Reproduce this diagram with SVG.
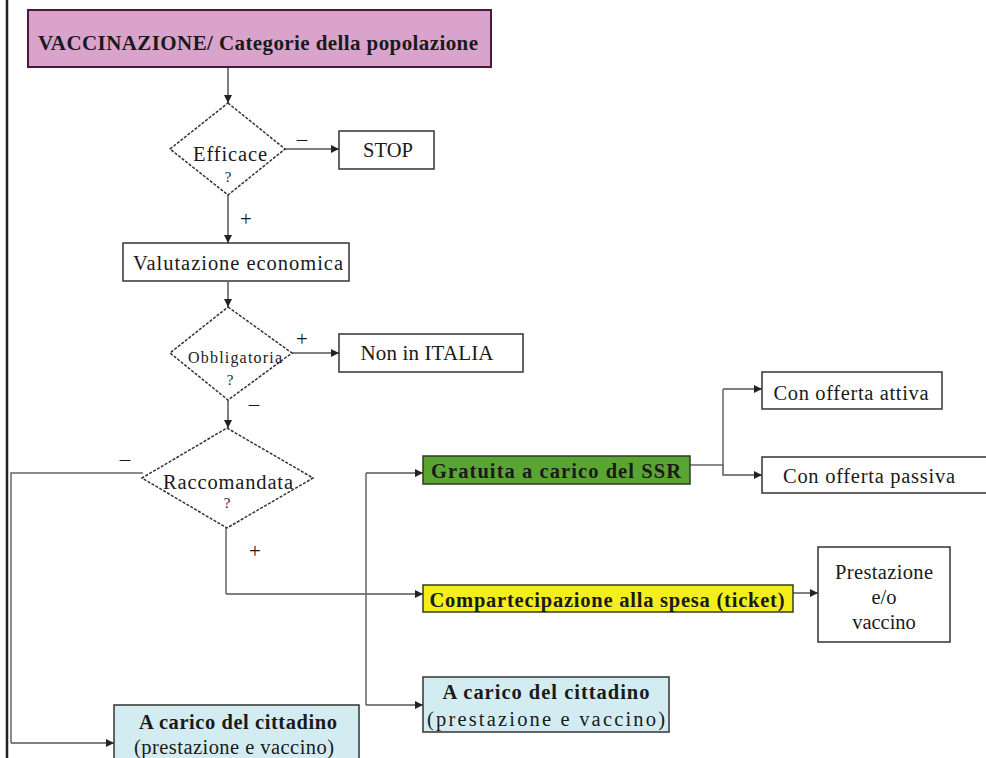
<svg xmlns="http://www.w3.org/2000/svg" width="986" height="758" viewBox="0 0 986 758">
<defs>
<marker id="arr" viewBox="0 0 10 10" refX="10" refY="5" markerWidth="9" markerHeight="8" markerUnits="userSpaceOnUse" orient="auto">
<path d="M0,0 L10,5 L0,10 z" fill="#222"/>
</marker>
<style>
text{font-family:"Liberation Serif","Times New Roman",serif;fill:#1a1a1a;text-anchor:middle;dominant-baseline:central}
.box{fill:#fff;stroke:#333;stroke-width:1.5}
.dia{fill:#fff;stroke:#333;stroke-width:1.5;stroke-dasharray:3 1.5}
.c{fill:none;stroke:#666;stroke-width:1.5}
.ca{fill:none;stroke:#555;stroke-width:1.5;marker-end:url(#arr)}
.b{font-weight:bold}
.t16{font-size:20.5px}
.t17{font-size:21px}
.q{font-size:15px}
.lbl{font-size:21px}
</style>
</defs>
<rect width="986" height="758" fill="#fff"/>
<line x1="7" y1="0" x2="7" y2="758" stroke="#222" stroke-width="2.5"/>

<g id="connectors">
<path class="ca" d="M228,68 V103"/>
<path class="ca" d="M285,149 H339"/>
<path class="ca" d="M228,195 V243"/>
<path class="ca" d="M228,282 V307"/>
<path class="ca" d="M292,353 H339"/>
<path class="ca" d="M228,400 V428"/>
<path class="c" d="M143,473 H11 V743"/>
<path class="ca" d="M11,743 H114"/>
<path class="c" d="M226,528 V594"/>
<path class="ca" d="M226,594 H423"/>
<path class="c" d="M366,473 V705"/>
<path class="ca" d="M366,473 H423"/>
<path class="ca" d="M366,705 H423"/>
<path class="c" d="M690,465 H723 V389"/>
<path class="ca" d="M723,389 H762"/>
<path class="ca" d="M723,465 V475 H762"/>
<path class="ca" d="M793,593 H818"/>
</g>

<g id="lbl-edges">
<text x="302" y="139" class="lbl">–</text>
<text x="246" y="219" class="lbl">+</text>
<text x="302" y="339" class="lbl">+</text>
<text x="254" y="404" class="lbl">–</text>
<text x="125" y="459" class="lbl">–</text>
<text x="255" y="551" class="lbl">+</text>
</g>

<g id="n-vaccinazione">
<rect x="28" y="10" width="463" height="57" fill="#d9a3cc" stroke="#4a1a3a" stroke-width="2"/>
<text x="258" y="43" class="b t17" textLength="440" lengthAdjust="spacing">VACCINAZIONE/ Categorie della popolazione</text>
</g>

<g id="n-efficace">
<polygon class="dia" points="228,103 285,149 228,195 170,149"/>
<text x="230" y="154" class="t16" textLength="74" lengthAdjust="spacing">Efficace</text>
<text x="228" y="177" class="q">?</text>
</g>

<g id="n-stop">
<rect class="box" x="339" y="131" width="95" height="38"/>
<text x="388" y="150" class="t16" textLength="50" lengthAdjust="spacing">STOP</text>
</g>

<g id="n-valutazione">
<rect class="box" x="123" y="243" width="226" height="38"/>
<text x="238" y="263" class="t16" textLength="210" lengthAdjust="spacing">Valutazione economica</text>
</g>

<g id="n-obbligatoria">
<polygon class="dia" points="228,307 292,353 228,400 170,353"/>
<text x="235" y="357" font-size="16px" textLength="94" lengthAdjust="spacing">Obbligatoria</text>
<text x="230" y="380" class="q">?</text>
</g>

<g id="n-non-italia">
<rect class="box" x="339" y="334" width="184" height="38"/>
<text x="427" y="353" class="t17" textLength="133" lengthAdjust="spacing">Non in ITALIA</text>
</g>

<g id="n-raccomandata">
<polygon class="dia" points="227,428 313,478 227,528 142,478"/>
<text x="228" y="482" class="t16" textLength="130" lengthAdjust="spacing">Raccomandata</text>
<text x="227" y="503" class="q">?</text>
</g>

<g id="n-gratuita">
<rect x="423" y="456" width="267" height="28" fill="#5aa532" stroke="#2f3a22" stroke-width="1.5"/>
<text x="556" y="471" class="b t16" textLength="250" lengthAdjust="spacing">Gratuita a carico del SSR</text>
</g>

<g id="n-attiva">
<rect class="box" x="762" y="372" width="180" height="37"/>
<text x="851" y="393" class="t16" textLength="155" lengthAdjust="spacing">Con offerta attiva</text>
</g>

<g id="n-passiva">
<rect class="box" x="762" y="457" width="230" height="36"/>
<text x="869" y="476" class="t16" textLength="172" lengthAdjust="spacing">Con offerta passiva</text>
</g>

<g id="n-ticket">
<rect x="423" y="585" width="370" height="27" fill="#f4ee1e" stroke="#3a3a20" stroke-width="1.5"/>
<text x="607" y="600" class="b t16" textLength="355" lengthAdjust="spacing">Compartecipazione alla spesa (ticket)</text>
</g>

<g id="n-prestazione">
<rect class="box" x="818" y="547" width="132" height="95"/>
<text x="884" y="572" class="t16" textLength="98" lengthAdjust="spacing">Prestazione</text>
<text x="884" y="597" class="t16">e/o</text>
<text x="884" y="622" class="t16">vaccino</text>
</g>

<g id="n-cittadino-2">
<rect x="423" y="677" width="246" height="55" fill="#d3ecf1" stroke="#333" stroke-width="1.5"/>
<text x="546" y="692" class="b t16" textLength="207" lengthAdjust="spacing">A carico del cittadino</text>
<text x="546" y="719" class="t16" textLength="238" lengthAdjust="spacing">(prestazione e vaccino)</text>
</g>

<g id="n-cittadino-1">
<rect x="114" y="705" width="245" height="60" fill="#d3ecf1" stroke="#333" stroke-width="1.5"/>
<text x="238" y="722" class="b t16" textLength="198" lengthAdjust="spacing">A carico del cittadino</text>
<text x="234" y="747" class="t16" textLength="200" lengthAdjust="spacing">(prestazione e vaccino)</text>
</g>
</svg>
